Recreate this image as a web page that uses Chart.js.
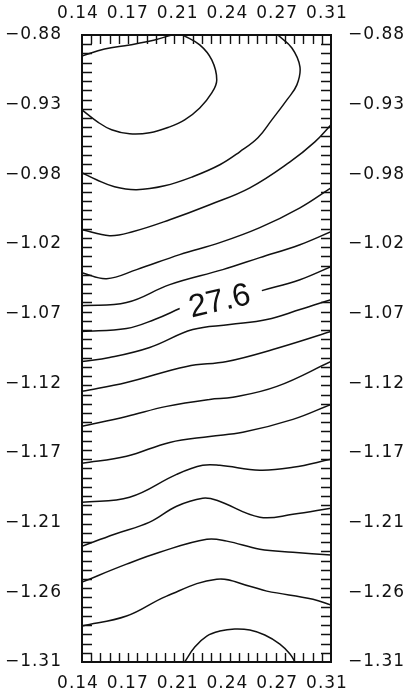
<!DOCTYPE html>
<html>
<head>
<meta charset="utf-8">
<title>Isolines</title>
<script src="https://cdn.jsdelivr.net/npm/chart.js@4.4.1/dist/chart.umd.min.js"></script>
<style>
  html, body { margin: 0; padding: 0; background: #fff; }
  canvas { display: block; }
</style>
</head>
<body>
<canvas id="chart" width="412" height="697"></canvas>
<script>
// Tick labels, repeated on the opposite sides of the frame
const xTickLabels = ['0.14', '0.17', '0.21', '0.24', '0.27', '0.31'];
const yTickLabels = ['−0.88', '−0.93', '−0.98', '−1.02', '−1.07', '−1.12', '−1.17', '−1.21', '−1.26', '−1.31'];
const xRange = [0.14, 0.31];
const yRange = [-1.31, -0.88];

// Isolines as [x, y] pairs, from the top of the frame downwards
const line01 = [[0.14, -0.8944], [0.1554, -0.8896], [0.1725, -0.8868], [0.1896, -0.8834], [0.2012, -0.88]];
const line02 = [[0.2088, -0.88], [0.2204, -0.8868], [0.2286, -0.8971], [0.2320, -0.9108], [0.2286, -0.9197],
                [0.2204, -0.9300], [0.2101, -0.9382], [0.1999, -0.9430], [0.1862, -0.9471], [0.1725, -0.9478],
                [0.1602, -0.9450], [0.1506, -0.9396], [0.14, -0.9314]];
const line03 = [[0.2737, -0.88], [0.2833, -0.8889], [0.2888, -0.9019], [0.2867, -0.9142], [0.2799, -0.9245],
                [0.2696, -0.9382], [0.2601, -0.9505], [0.2477, -0.9601], [0.2341, -0.9690], [0.2156, -0.9772],
                [0.1964, -0.9834], [0.1773, -0.9861], [0.1622, -0.9841], [0.1499, -0.9793], [0.14, -0.9745]];
const line04 = [[0.14, -1.0135], [0.1588, -1.0176], [0.1745, -1.0149], [0.1999, -1.0067], [0.2272, -0.9964],
                [0.2546, -0.9848], [0.2820, -0.9670], [0.2990, -0.9533], [0.31, -0.9416]];
const line05 = [[0.14, -1.0430], [0.1568, -1.0471], [0.1773, -1.0409], [0.2067, -1.0306], [0.2341, -1.0224],
                [0.2614, -1.0121], [0.2888, -0.9985], [0.31, -0.9848]];
const line06 = [[0.14, -1.0656], [0.1704, -1.0635], [0.1999, -1.0512], [0.2361, -1.0409], [0.2614, -1.0327],
                [0.2888, -1.0238], [0.31, -1.0149]];
// the labelled level is split around its label
const line07a = [[0.14, -1.0834], [0.1704, -1.0813], [0.1896, -1.0751], [0.2067, -1.0676]];
const line07b = [[0.2628, -1.0553], [0.2888, -1.0478], [0.31, -1.0389]];
const line08 = [[0.14, -1.1039], [0.1588, -1.1012], [0.1862, -1.0943], [0.2156, -1.0820], [0.2409, -1.0786],
                [0.2662, -1.0751], [0.2888, -1.0683], [0.31, -1.0615]];
const line09 = [[0.14, -1.1244], [0.1704, -1.1183], [0.2115, -1.1073], [0.2389, -1.1039], [0.2703, -1.0957],
                [0.31, -1.0834]];
const line10 = [[0.14, -1.1484], [0.1704, -1.1416], [0.1978, -1.1347], [0.2272, -1.1299], [0.2430, -1.1285],
                [0.2731, -1.1210], [0.31, -1.1039]];
const line11 = [[0.14, -1.1737], [0.1704, -1.1689], [0.1999, -1.1594], [0.2272, -1.1553], [0.2498, -1.1525],
                [0.2840, -1.1436], [0.31, -1.1333]];
const line12 = [[0.14, -1.2004], [0.1725, -1.1970], [0.2046, -1.1813], [0.2224, -1.1751], [0.2341, -1.1751],
                [0.2614, -1.1785], [0.2840, -1.1765], [0.31, -1.1710]];
const line13 = [[0.14, -1.2306], [0.1622, -1.2224], [0.1862, -1.2141], [0.2046, -1.2032], [0.2224, -1.1977],
                [0.2320, -1.1991], [0.2614, -1.2107], [0.2840, -1.2087], [0.31, -1.2045]];
const line14 = [[0.14, -1.2552], [0.1704, -1.2429], [0.1930, -1.2347], [0.2252, -1.2258], [0.2389, -1.2271],
                [0.2614, -1.2326], [0.2840, -1.2347], [0.31, -1.2367]];
const line15 = [[0.14, -1.2853], [0.1704, -1.2785], [0.1978, -1.2648], [0.2320, -1.2532], [0.2546, -1.2580],
                [0.2662, -1.2614], [0.2977, -1.2669], [0.31, -1.2710]];
const line16 = [[0.2101, -1.31], [0.2170, -1.2997], [0.2252, -1.2922], [0.2341, -1.2888], [0.2443, -1.2874],
                [0.2546, -1.2881], [0.2648, -1.2915], [0.2751, -1.2977], [0.2820, -1.3045], [0.2854, -1.31]];

const labelledLevel = 27.6;
const labelPosition = [0.2341, -1.0631];

const allLines = [line01, line02, line03, line04, line05, line06, line07a, line07b,
                  line08, line09, line10, line11, line12, line13, line14, line15, line16];

const INK = '#111';
const tickFont = { family: '"DejaVu Sans", "Liberation Sans", sans-serif', size: 17 };

// place the labelled ticks evenly between min and max
function evenTicks(labels, descending) {
  return function (scale) {
    const lo = scale.options.min, hi = scale.options.max, n = labels.length;
    scale.ticks = labels.map((_, i) => ({
      value: descending ? hi - i * (hi - lo) / (n - 1) : lo + i * (hi - lo) / (n - 1)
    }));
  };
}

function axis(kind, position, size, pad) {
  const horizontal = kind === 'x';
  const labels = horizontal ? xTickLabels : yTickLabels;
  const range = horizontal ? xRange : yRange;
  return {
    type: 'linear',
    axis: kind,
    position: position,
    min: range[0],
    max: range[1],
    afterBuildTicks: evenTicks(labels, !horizontal),
    afterFit: s => { if (horizontal) s.height = size; else s.width = size; },
    grid: { display: false, drawTicks: false },
    border: { display: true, color: INK, width: 2 },
    ticks: {
      callback: (v, i) => labels[i],
      font: tickFont,
      color: INK,
      padding: pad,
      labelOffset: horizontal ? -4 : 0,
      autoSkip: false,
      maxRotation: 0,
      minRotation: 0
    }
  };
}

// inward minor ticks on all four sides, plus the level label
const X_MINOR = 27;
const Y_MINOR = 68;
const frameDecor = {
  id: 'frameDecor',
  beforeDraw(chart) { chart.ctx.letterSpacing = '1px'; },
  afterDatasetsDraw(chart) {
    const { ctx, chartArea: a, scales: { x, y } } = chart;
    ctx.save();
    ctx.strokeStyle = INK;
    ctx.lineWidth = 1.4;
    ctx.beginPath();
    for (let i = 1; i < X_MINOR; i++) {
      const px = Math.round(x.getPixelForValue(x.min + i * (x.max - x.min) / X_MINOR)) + 0.5;
      ctx.moveTo(px, a.top); ctx.lineTo(px, a.top + 9);
      ctx.moveTo(px, a.bottom); ctx.lineTo(px, a.bottom - 9);
    }
    for (let i = 1; i < Y_MINOR; i++) {
      const py = Math.round(y.getPixelForValue(y.min + i * (y.max - y.min) / Y_MINOR)) + 0.5;
      ctx.moveTo(a.left, py); ctx.lineTo(a.left + 10, py);
      ctx.moveTo(a.right, py); ctx.lineTo(a.right - 10, py);
    }
    ctx.stroke();

    const lx = x.getPixelForValue(labelPosition[0]);
    const ly = y.getPixelForValue(labelPosition[1]);
    ctx.translate(lx, ly);
    ctx.rotate(-13 * Math.PI / 180);
    ctx.letterSpacing = '0px';
    ctx.font = '32px "Liberation Sans", "DejaVu Sans", sans-serif';
    ctx.fillStyle = INK;
    ctx.textAlign = 'center';
    ctx.textBaseline = 'middle';
    ctx.fillText(labelledLevel.toFixed(1), 0, 0);
    ctx.restore();
  }
};

new Chart(document.getElementById('chart'), {
  type: 'scatter',
  data: {
    datasets: allLines.map(pts => ({
      data: pts.map(([px, py]) => ({ x: px, y: py })),
      showLine: true,
      borderColor: INK,
      borderWidth: 1.5,
      pointRadius: 0,
      pointHoverRadius: 0,
      tension: 0.4,
      fill: false
    }))
  },
  options: {
    responsive: false,
    animation: false,
    devicePixelRatio: 1,
    layout: { padding: 0 },
    plugins: { legend: { display: false }, tooltip: { enabled: false } },
    scales: {
      x: axis('x', 'bottom', 35, 11),
      x2: axis('x', 'top', 35, 11),
      y: axis('y', 'left', 82, 20),
      y2: axis('y', 'right', 81, 17)
    }
  },
  plugins: [frameDecor]
});
</script>
</body>
</html>
